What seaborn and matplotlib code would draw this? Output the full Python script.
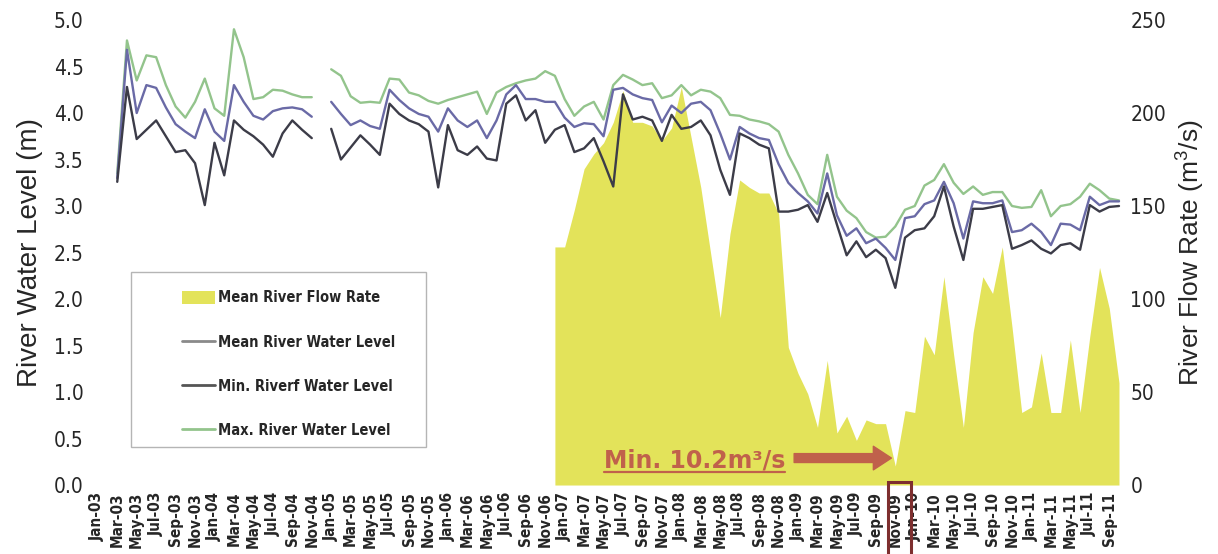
import numpy as np
import pandas as pd
import matplotlib
matplotlib.use("Agg")
import matplotlib.pyplot as plt
import seaborn as sns
from matplotlib.lines import Line2D
from matplotlib.patches import Patch, Rectangle
from matplotlib import transforms
from matplotlib import font_manager

# ---------------- data ----------------
# month index: 0 = Jan-2003
level_months = list(range(2, 106))

max_level = [3.35, 4.78, 4.35, 4.62, 4.60, 4.30, 4.07, 3.95, 4.12, 4.37, 4.05, 3.97, 4.90, 4.60,
             4.15, 4.17, 4.25, 4.24, 4.20, 4.17, 4.17, np.nan, 4.47, 4.40, 4.18, 4.11, 4.12, 4.11,
             4.37, 4.36, 4.22, 4.19, 4.13, 4.10, 4.14, 4.17, 4.20, 4.23, 3.99, 4.22, 4.28, 4.32,
             4.35, 4.37, 4.45, 4.40, 4.15, 3.97, 4.07, 4.12, 3.93, 4.30, 4.41, 4.36, 4.30, 4.32,
             4.16, 4.19, 4.30, 4.19, 4.25, 4.23, 4.16, 3.98, 3.97, 3.93, 3.91, 3.88, 3.80, 3.55,
             3.35, 3.12, 3.02, 3.55, 3.10, 2.95, 2.87, 2.72, 2.66, 2.67, 2.78, 2.96, 3.00, 3.22,
             3.28, 3.45, 3.25, 3.13, 3.21, 3.12, 3.15, 3.15, 3.00, 2.98, 2.99, 3.17, 2.89, 3.00,
             3.02, 3.10, 3.24, 3.17, 3.08, 3.06]

mean_level = [3.30, 4.68, 4.00, 4.30, 4.27, 4.06, 3.88, 3.80, 3.73, 4.04, 3.80, 3.70, 4.30, 4.12,
              3.97, 3.93, 4.02, 4.05, 4.06, 4.04, 3.96, np.nan, 4.12, 3.99, 3.87, 3.92, 3.86, 3.83,
              4.25, 4.14, 4.05, 3.99, 3.96, 3.80, 4.05, 3.92, 3.85, 3.92, 3.73, 3.92, 4.20, 4.30,
              4.15, 4.15, 4.12, 4.12, 3.95, 3.85, 3.89, 3.88, 3.75, 4.25, 4.27, 4.20, 4.16, 4.14,
              3.90, 4.08, 4.00, 4.10, 4.12, 4.03, 3.78, 3.50, 3.85, 3.78, 3.73, 3.71, 3.45, 3.25,
              3.14, 3.05, 2.92, 3.35, 2.90, 2.68, 2.76, 2.60, 2.65, 2.55, 2.42, 2.87, 2.89, 3.02,
              3.06, 3.26, 3.03, 2.65, 3.05, 3.03, 3.03, 3.06, 2.72, 2.74, 2.81, 2.72, 2.58, 2.81,
              2.80, 2.74, 3.10, 3.01, 3.05, 3.05]

min_level = [3.26, 4.28, 3.72, 3.82, 3.92, 3.75, 3.58, 3.60, 3.46, 3.01, 3.68, 3.33, 3.92, 3.82,
             3.75, 3.66, 3.53, 3.78, 3.92, 3.82, 3.73, np.nan, 3.83, 3.50, 3.63, 3.76, 3.66, 3.55,
             4.10, 3.99, 3.92, 3.88, 3.80, 3.20, 3.87, 3.60, 3.55, 3.64, 3.51, 3.49, 4.10, 4.19,
             3.92, 4.03, 3.68, 3.82, 3.87, 3.58, 3.62, 3.73, 3.48, 3.21, 4.20, 3.93, 3.96, 3.92,
             3.70, 3.98, 3.83, 3.85, 3.92, 3.76, 3.39, 3.12, 3.78, 3.73, 3.66, 3.62, 2.94, 2.94,
             2.96, 3.01, 2.83, 3.14, 2.80, 2.47, 2.62, 2.45, 2.53, 2.44, 2.12, 2.66, 2.74, 2.76,
             2.89, 3.21, 2.78, 2.42, 2.97, 2.97, 2.99, 3.01, 2.54, 2.58, 2.63, 2.54, 2.49, 2.58,
             2.60, 2.53, 3.01, 2.94, 2.99, 3.00]

flow_months = list(range(47, 106))
mean_flow = [128, 128, 148, 170, 178, 184, 195, 212, 195, 195, 193, 185, 192, 214, 187, 160,
             125, 90, 135, 164, 160, 157, 157, 146, 74, 60, 49, 31, 67, 28, 37, 24, 35, 33, 33,
             10.2, 40, 39, 80, 70, 112, 70, 31, 82, 112, 103, 128, 85, 39, 42, 71, 39, 39, 78,
             39, 80, 117, 95, 55]

min_flow_month = 82
min_flow_value = 10.2

month_names = ["Jan", "Feb", "Mar", "Apr", "May", "Jun",
               "Jul", "Aug", "Sep", "Oct", "Nov", "Dec"]
tick_months = list(range(0, 105, 2))
tick_labels = [f"{month_names[m % 12]}-{3 + m // 12:02d}" for m in tick_months]

series_names = ["Mean River Water Level", "Min. Riverf Water Level", "Max. River Water Level"]
flow_name = "Mean River Flow Rate"

# ---------------- styling ----------------
sns.set_style("white")
plt.rcParams["font.family"] = ["Liberation Sans", "DejaVu Sans"]
plt.rcParams["mathtext.default"] = "regular"

c_flow = "#e3e35a"
c_mean = "#6a6aa6"
c_min = "#3c3c48"
c_max = "#93c48c"
c_note = "#c0614b"

# condensed face for ticks and legend
cond = font_manager.FontProperties(family="DejaVu Sans", stretch="condensed")


def cond_font(size, weight="normal"):
    fp = cond.copy()
    fp.set_size(size)
    fp.set_weight(weight)
    return fp


# long-form frame; a segment id keeps the Dec-04 gap open
seg = [0 if m < 23 else 1 for m in level_months]
frames = []
for name, vals in zip(series_names, [mean_level, min_level, max_level]):
    frames.append(pd.DataFrame({"month": level_months, "level": vals,
                                "series": name, "segment": seg}))
levels = pd.concat(frames, ignore_index=True).dropna()

fig = plt.figure(figsize=(12.18, 5.54), dpi=100)
ax = fig.add_axes([0.0755, 0.1245, 0.848, 0.8394])
ax2 = ax.twinx()

# flow area on the right axis, behind the level lines
ax2.fill_between(flow_months, 0, mean_flow, color=c_flow, lw=0)
ax2.set_ylim(0, 250)

ax.set_zorder(ax2.get_zorder() + 1)
ax.patch.set_visible(False)

palette = {series_names[0]: c_mean, series_names[1]: c_min, series_names[2]: c_max}
sns.lineplot(data=levels, x="month", y="level", hue="series", units="segment",
             estimator=None, palette=palette, linewidth=1.7, legend=False, ax=ax,
             hue_order=[series_names[2], series_names[0], series_names[1]])

ax.set_xlim(-0.6, 105.6)
ax.set_ylim(0, 5)
yt = np.arange(0, 5.01, 0.5)
ax.set_yticks(yt)
ax.set_yticklabels([f"{v:.1f}" for v in yt], fontproperties=cond_font(15))
ax2.set_yticks(np.arange(0, 251, 50))
ax2.set_yticklabels([str(v) for v in range(0, 251, 50)], fontproperties=cond_font(15))
ax.set_xticks(tick_months)
ax.set_xticklabels(tick_labels, rotation=90, fontproperties=cond_font(11, "bold"))
ax.tick_params(axis="both", length=0)
ax.tick_params(axis="y", pad=6)
ax.tick_params(axis="x", pad=5)
ax2.tick_params(axis="y", length=0, pad=4)
ax.set_xlabel("")
ax.set_ylabel("River Water Level (m)", fontsize=20, labelpad=8)
ax2.set_ylabel("River Flow Rate (m$^{3}$/s)", fontsize=19, labelpad=6)
for a in (ax, ax2):
    for s in a.spines.values():
        s.set_visible(False)
    a.grid(False)

# legend with its own frame
ax.add_patch(Rectangle((0.038, 0.082), 0.285, 0.376, transform=ax.transAxes,
                       fill=False, edgecolor="#b5b5b5", lw=1.0, zorder=5))
handles = [Patch(facecolor=c_flow, edgecolor="none", label=flow_name),
           Line2D([], [], color="#8a8a8a", lw=2, label=series_names[0]),
           Line2D([], [], color="#555555", lw=2, label=series_names[1]),
           Line2D([], [], color=c_max, lw=2, label=series_names[2])]
leg = ax.legend(handles=handles, loc="upper left", bbox_to_anchor=(0.08, 0.434),
                frameon=False, borderpad=0, handlelength=2.3, handletextpad=0.2,
                handleheight=0.9, labelspacing=2.0, prop=cond_font(10.5, "bold"))

# minimum flow note with arrow
note = ax.text(52.0, 0.19, f"Min. {min_flow_value}m³/s", color=c_note, fontsize=17,
               fontweight="bold", family=["DejaVu Sans"], va="baseline", ha="left", zorder=8)
ax.annotate("", xy=(min_flow_month - 0.4, 0.29), xytext=(71.6, 0.29),
            arrowprops=dict(arrowstyle="simple,head_length=0.65,head_width=0.85,tail_width=0.32",
                            fc=c_note, ec=c_note, mutation_scale=20, shrinkA=0, shrinkB=0))

# box around the Nov-09 tick
blend = transforms.blended_transform_factory(ax.transData, ax.transAxes)
ax.add_patch(Rectangle((min_flow_month - 0.8, -0.2), 2.4, 0.207, transform=blend,
                       fill=False, edgecolor="#7e2f2f", lw=2.2, clip_on=False, zorder=6))

# underline below the note
fig.canvas.draw()
bb = note.get_window_extent().transformed(ax.transData.inverted())
ax.plot([bb.x0, bb.x1], [0.14, 0.14], color=c_note, lw=1.6, clip_on=False, zorder=8)

fig.savefig("out.png", dpi=100, facecolor="white")
